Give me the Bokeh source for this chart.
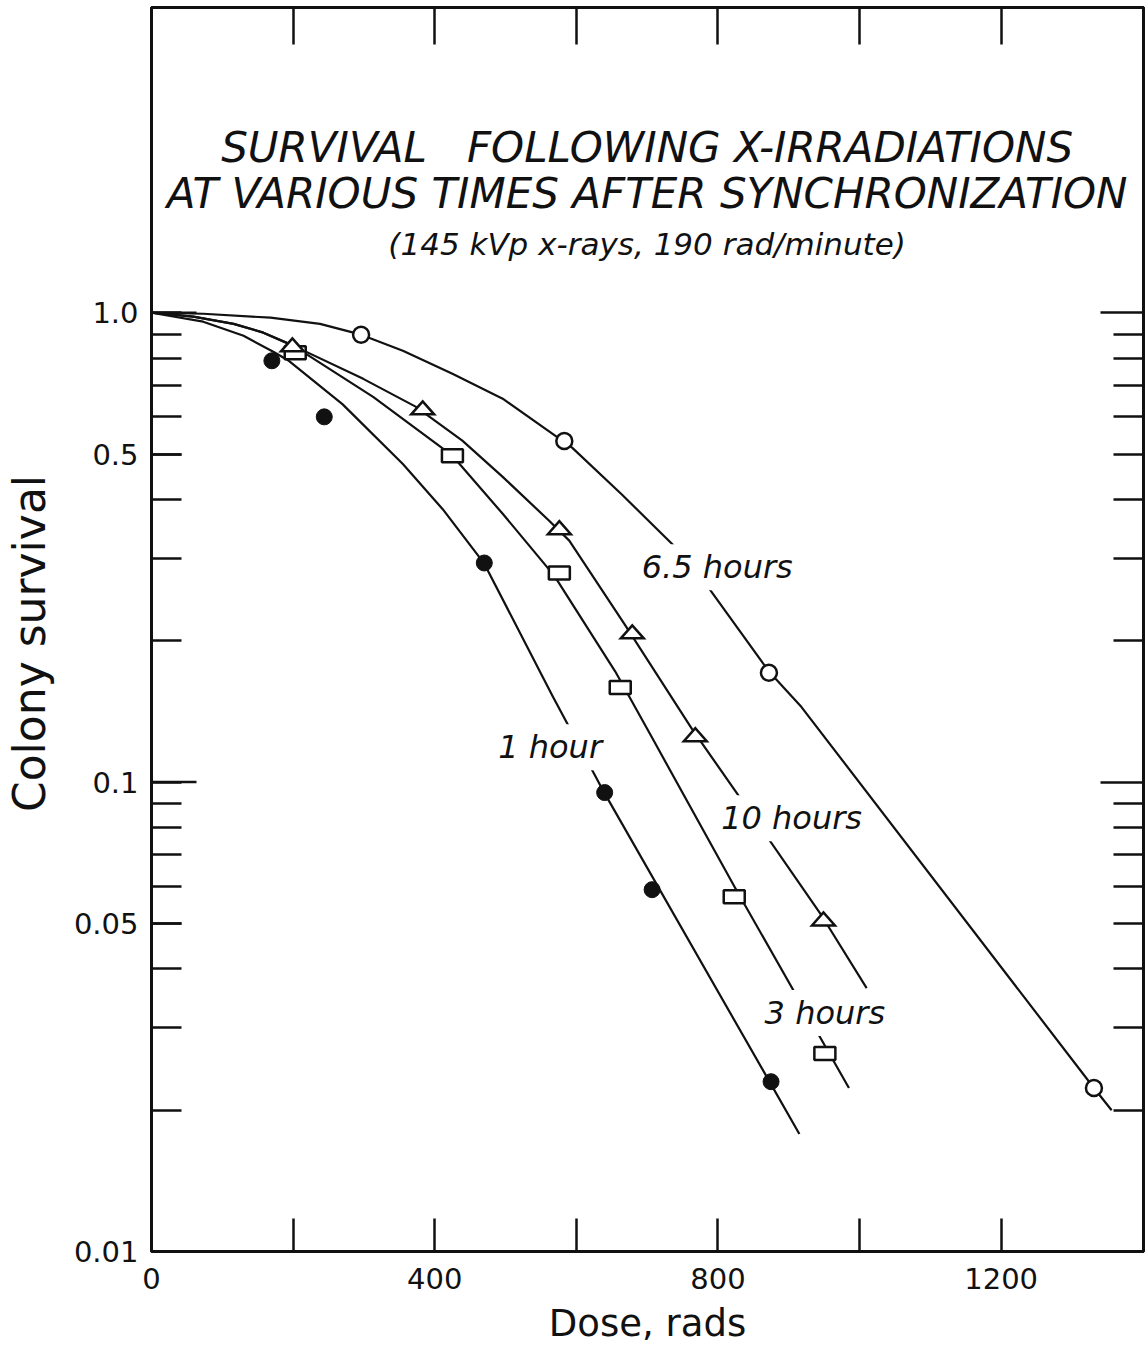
import math
from bokeh.plotting import figure
from bokeh.models import (Range1d, LinearAxis, LogAxis, FixedTicker,
                          CustomJSTickFormatter, Label)
from bokeh.embed import file_html
from bokeh.resources import INLINE

# ---------------- data ----------------
# measured points
dose_1h = [170, 244, 470, 640, 707, 875]
surv_1h = [0.79, 0.60, 0.293, 0.095, 0.059, 0.023]
dose_3h = [203, 425, 576, 662, 823, 951]
surv_3h = [0.822, 0.496, 0.279, 0.159, 0.057, 0.0264]
dose_10h = [199, 383, 576, 679, 768, 949]
surv_10h = [0.846, 0.621, 0.345, 0.207, 0.125, 0.0506]
dose_65h = [296, 583, 872, 1331]
surv_65h = [0.898, 0.533, 0.171, 0.0223]

# fitted curves (traced)
curve_1h_dose = [0, 73, 130, 172, 194, 270, 355, 411, 470, 566, 639, 875, 915]
curve_1h_surv = [1.0, 0.957, 0.893, 0.826, 0.790, 0.638, 0.476, 0.382, 0.292, 0.153, 0.0952, 0.0227, 0.0178]
curve_3h_dose = [0, 59, 116, 158, 200, 313, 425, 496, 569, 655, 710, 823, 985]
curve_3h_surv = [1.0, 0.981, 0.947, 0.907, 0.851, 0.662, 0.496, 0.373, 0.275, 0.172, 0.122, 0.060, 0.0223]
curve_10h_dose = [0, 59, 116, 158, 200, 299, 373, 439, 496, 562, 590, 668, 763, 837, 947, 1010]
curve_10h_surv = [1.0, 0.981, 0.947, 0.907, 0.851, 0.723, 0.631, 0.534, 0.447, 0.360, 0.327, 0.217, 0.130, 0.090, 0.0518, 0.0364]
curve_65h_dose = [0, 73, 168, 238, 296, 355, 425, 496, 594, 665, 745, 780, 872, 918, 1331, 1356]
curve_65h_surv = [1.0, 0.995, 0.976, 0.947, 0.898, 0.830, 0.741, 0.656, 0.516, 0.409, 0.311, 0.268, 0.172, 0.1445, 0.0223, 0.0200]

x_major = [0, 400, 800, 1200]
x_minor = [200, 600, 1000]
x_top = [200, 400, 600, 800, 1000, 1200]
y_labeled = [0.01, 0.05, 0.1, 0.5, 1.0]
y_long = [0.01, 0.1, 1.0]
y_short = [0.02, 0.03, 0.04, 0.05, 0.06, 0.07, 0.08, 0.09,
           0.2, 0.3, 0.4, 0.5, 0.6, 0.7, 0.8, 0.9]

title1 = "SURVIVAL\u00a0\u00a0 FOLLOWING X-IRRADIATIONS"
title2 = "AT VARIOUS TIMES AFTER SYNCHRONIZATION"
subtitle = "(145 kVp x-rays, 190 rad/minute)"

FONT = "DejaVu Sans"
INK = "#111111"

W, H = 1148, 1348
BL, BR, BT, BB = 148, 5, 7, 97
X0, X1 = 0, 1401
Y0, Y1 = 0.01, 4.47

p = figure(width=W, height=H, output_backend="svg", toolbar_location=None,
           y_axis_type="log", x_range=Range1d(X0, X1), y_range=Range1d(Y0, Y1),
           min_border_left=BL, min_border_right=BR, min_border_top=BT, min_border_bottom=BB)
p.background_fill_color = "white"
p.border_fill_color = "white"
p.grid.visible = False
p.outline_line_color = INK
p.outline_line_width = 3

# ---- axes ----
xa = p.xaxis[0]
xa.ticker = FixedTicker(ticks=x_major, minor_ticks=x_minor)
xa.major_tick_in = 33
xa.major_tick_out = 0
xa.minor_tick_in = 33
xa.minor_tick_out = 0
xa.axis_line_width = 3
xa.axis_line_color = INK
xa.major_tick_line_width = 2.5
xa.minor_tick_line_width = 2.5
xa.major_tick_line_color = INK
xa.minor_tick_line_color = INK
xa.major_label_text_font = FONT
xa.major_label_text_font_size = "29px"
xa.major_label_text_color = INK
xa.major_label_standoff = 16
xa.axis_label = "Dose, rads"
xa.axis_label_text_font = FONT
xa.axis_label_text_font_size = "37px"
xa.axis_label_text_font_style = "normal"
xa.axis_label_text_color = INK
xa.axis_label_standoff = 10

ya = p.yaxis[0]
ya.ticker = FixedTicker(ticks=y_labeled, minor_ticks=y_short)
ya.formatter = CustomJSTickFormatter(code="return tick == 1 ? '1.0' : tick.toString();")
ya.major_tick_in = 30
ya.major_tick_out = 0
ya.minor_tick_in = 30
ya.minor_tick_out = 0
ya.axis_line_width = 3
ya.axis_line_color = INK
ya.major_tick_line_width = 2.5
ya.minor_tick_line_width = 2.5
ya.major_tick_line_color = INK
ya.minor_tick_line_color = INK
ya.major_label_text_font = FONT
ya.major_label_text_font_size = "29px"
ya.major_label_text_color = INK
ya.major_label_standoff = 13
ya.axis_label = "Colony survival\u00a0\u00a0"
ya.axis_label_text_font = FONT
ya.axis_label_text_font_size = "44px"
ya.axis_label_text_font_style = "normal"
ya.axis_label_text_color = INK
ya.axis_label_standoff = 16

top = LinearAxis(ticker=FixedTicker(ticks=x_top),
                 major_tick_in=37, major_tick_out=0, minor_tick_in=0, minor_tick_out=0,
                 axis_line_width=3, axis_line_color=INK,
                 major_tick_line_width=2.5, major_tick_line_color=INK,
                 major_label_text_color=None, major_label_text_font_size="2px",
                 major_label_standoff=0)
p.add_layout(top, "above")

right = LogAxis(ticker=FixedTicker(ticks=y_long, minor_ticks=y_short),
                major_tick_in=43, major_tick_out=0, minor_tick_in=30, minor_tick_out=0,
                axis_line_width=3, axis_line_color=INK,
                major_tick_line_width=2.5, minor_tick_line_width=2.5,
                major_tick_line_color=INK, minor_tick_line_color=INK,
                major_label_text_color=None, major_label_text_font_size="2px",
                major_label_standoff=0)
p.add_layout(right, "right")

# longer decade ticks on the left edge (half of each dash falls inside the frame)
p.scatter([X0] * len(y_long), y_long, marker="dash", size=90,
          line_color=INK, line_width=2.5)

# ---- curves ----
for dx, sy in [(curve_1h_dose, curve_1h_surv), (curve_3h_dose, curve_3h_surv),
               (curve_10h_dose, curve_10h_surv), (curve_65h_dose, curve_65h_surv)]:
    p.line(dx, sy, line_color=INK, line_width=2.2, line_join="round")

# ---- markers ----
p.scatter(dose_1h, surv_1h, marker="circle", size=16, fill_color=INK, line_color=INK)
p.rect(dose_3h, surv_3h, width=21, height=13, width_units="screen", height_units="screen",
       fill_color="white", line_color=INK, line_width=2.5)

# flattened open triangles (about 23 px wide, 13 px tall) centred on each 10 h point
px_per_rad = (W - BL - BR) / (X1 - X0)
px_per_decade = (H - BT - BB) / (math.log10(Y1) - math.log10(Y0))
half_w = 11.5 / px_per_rad
up = 10 ** (8.5 / px_per_decade)
down = 10 ** (-4.5 / px_per_decade)
tri_xs = [[d - half_w, d + half_w, d] for d in dose_10h]
tri_ys = [[s * down, s * down, s * up] for s in surv_10h]
p.patches(tri_xs, tri_ys, fill_color="white", line_color=INK, line_width=2.5,
          line_join="miter")

p.scatter(dose_65h, surv_65h, marker="circle", size=16, fill_color="white",
          line_color=INK, line_width=2.5)

# ---- curve labels ----
curve_labels = [("6.5 hours", 799, 0.287), ("1 hour", 563, 0.1187),
                ("10 hours", 904, 0.0838), ("3 hours", 951, 0.0322)]
for txt, lx, ly in curve_labels:
    p.add_layout(Label(x=lx, y=ly, text=txt, text_align="center", text_baseline="middle",
                       text_font=FONT, text_font_style="italic", text_font_size="32px",
                       text_color=INK, background_fill_color="white", padding=4))

# ---- titles ----
p.add_layout(Label(x=700, y=2.248, text=title1, text_align="center", text_baseline="middle",
                   text_font=FONT, text_font_style="italic", text_font_size="42px", text_color=INK))
p.add_layout(Label(x=700, y=1.794, text=title2, text_align="center", text_baseline="middle",
                   text_font=FONT, text_font_style="italic", text_font_size="42px", text_color=INK))
p.add_layout(Label(x=700, y=1.403, text=subtitle, text_align="center", text_baseline="middle",
                   text_font=FONT, text_font_style="italic", text_font_size="31px", text_color=INK))

open("out.html", "w").write(file_html(p, INLINE))
